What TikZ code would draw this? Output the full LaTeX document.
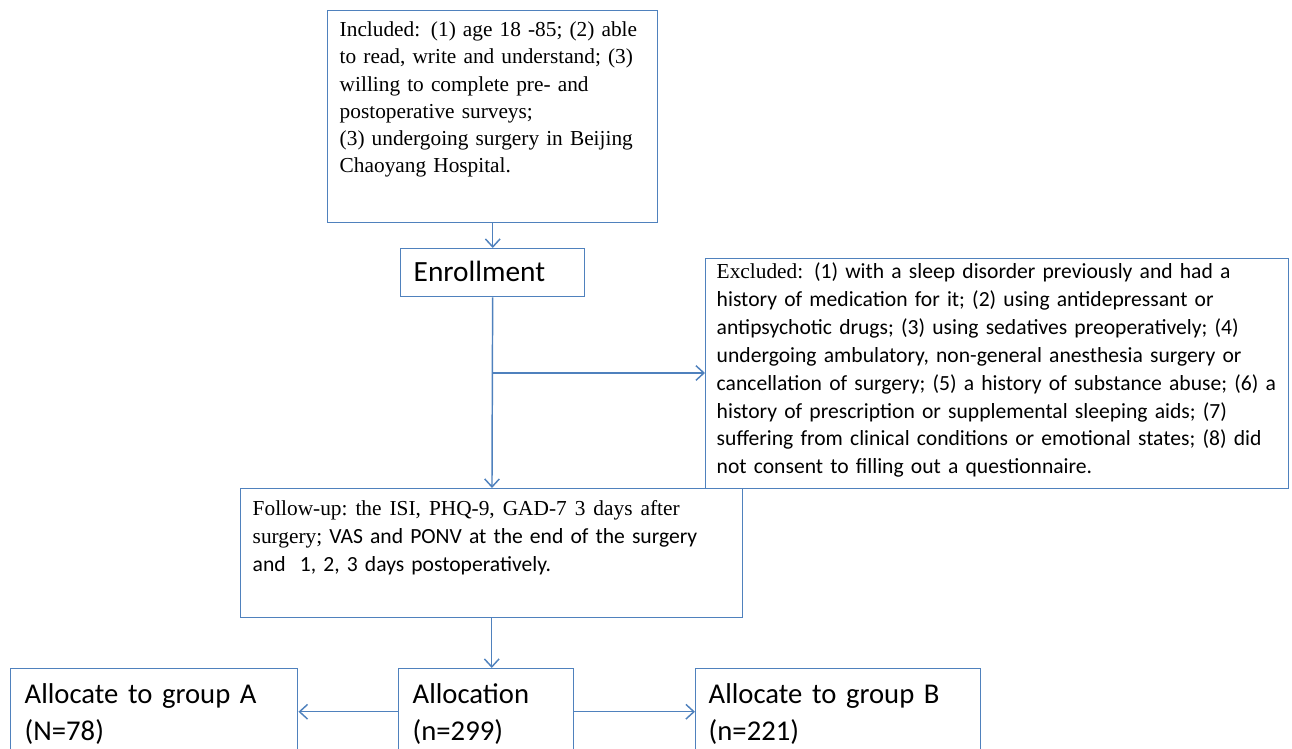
\documentclass[tikz,border=0pt]{standalone}
\usepackage{fontspec}
\setmainfont{Liberation Serif}
\newfontfamily\calibri{Carlito}
\usetikzlibrary{arrows.meta}
\definecolor{boxblue}{RGB}{79,129,189}

\newcommand{\wsp}{\hspace{6pt}}

\tikzset{
  flowbox/.style={draw=boxblue, line width=1.1pt, anchor=north west, inner ysep=0pt, align=left},
  flowarrow/.style={boxblue, line width=1.1pt, -{Straight Barb[length=6pt,width=11pt]}},
  bigtext/.style={font=\calibri\fontsize{21.5}{27.75}\selectfont}
}

\begin{document}
\begin{tikzpicture}[x=0.75pt, y=-0.75pt]
  \useasboundingbox (0,0) rectangle (1292,749);

  % Boxes
  \node[flowbox, inner xsep=9pt, text width=229.5pt, text height=19.5pt, text depth=139.5pt,
        font=\fontsize{16}{20.4}\selectfont] (incl) at (327,10)
    {Included:  (1) age  18 -85;  (2)  able\\
     to read,  write  and  understand;  (3)\\
     willing  to  complete  pre-  and\\
     postoperative  surveys;\\
     (3) undergoing  surgery  in Beijing\\
     Chaoyang  Hospital.};

  \node[flowbox, bigtext, font=\calibri\fontsize{22}{27.75}\selectfont, inner xsep=9.75pt, text width=118.5pt, text height=24.75pt, text depth=11.25pt] (enrol) at (400,248) {Enrollment};

  \node[flowbox, inner xsep=8.25pt, text width=420.75pt, text height=15pt, text depth=157.5pt,
        font=\calibri\fontsize{16.2}{20.9}\selectfont] (excl) at (705,258)
    {{\rmfamily\fontsize{16}{20.9}\selectfont Excluded:} (1) with a sleep disorder previously and had a\\
     history of medication for it; (2) using antidepressant or\\
     antipsychotic drugs; (3) using sedatives preoperatively; (4)\\
     undergoing ambulatory, non-general anesthesia surgery or\\
     cancellation of surgery; (5) a history of substance abuse; (6) a\\
     history of prescription or supplemental sleeping aids; (7)\\
     suffering from clinical conditions or emotional states; (8) did\\
     not consent to filling out a questionnaire.};

  \node[flowbox, inner xsep=9pt, text width=358.5pt, text height=20.25pt, text depth=76.5pt,
        font=\fontsize{16}{21}\selectfont] (follow) at (240,488)
    {Follow-up:\wsp the\wsp ISI,\wsp PHQ-9,\wsp GAD-7\wsp 3\wsp days\wsp after\\
     surgery;  {\calibri\fontsize{16.2}{21}\selectfont VAS and PONV at the end of the surgery}\\
     {\calibri\fontsize{16.2}{21}\selectfont and \ 1, 2, 3 days postoperatively.}};

  % Allocation row (cut by the lower edge)
  \node[flowbox, bigtext, inner xsep=10.5pt, text width=110.25pt, text height=26.25pt, text depth=38.25pt] (alloc) at (398,668) {Allocation\\(n=299)};
  \node[flowbox, bigtext, inner xsep=10.5pt, text width=194.25pt, text height=26.25pt, text depth=38.25pt] (grpA) at (10,668) {Allocate to group A\\(N=78)};
  \node[flowbox, bigtext, inner xsep=9.75pt, text width=194.25pt, text height=26.25pt, text depth=38.25pt] (grpB) at (695,668) {Allocate to group B\\(n=221)};

  % Connectors
  \draw[flowarrow] (incl) -- (enrol);
  \draw[flowarrow] (enrol) -- (follow);
  \coordinate (branch) at (492,373);
  \draw[flowarrow] (branch) -- (branch -| excl.west);
  \draw[flowarrow] (follow.south) -- (follow.south |- alloc.north);
  \draw[flowarrow] (alloc) -- (grpA);
  \draw[flowarrow] (alloc) -- (grpB);
\end{tikzpicture}
\end{document}
